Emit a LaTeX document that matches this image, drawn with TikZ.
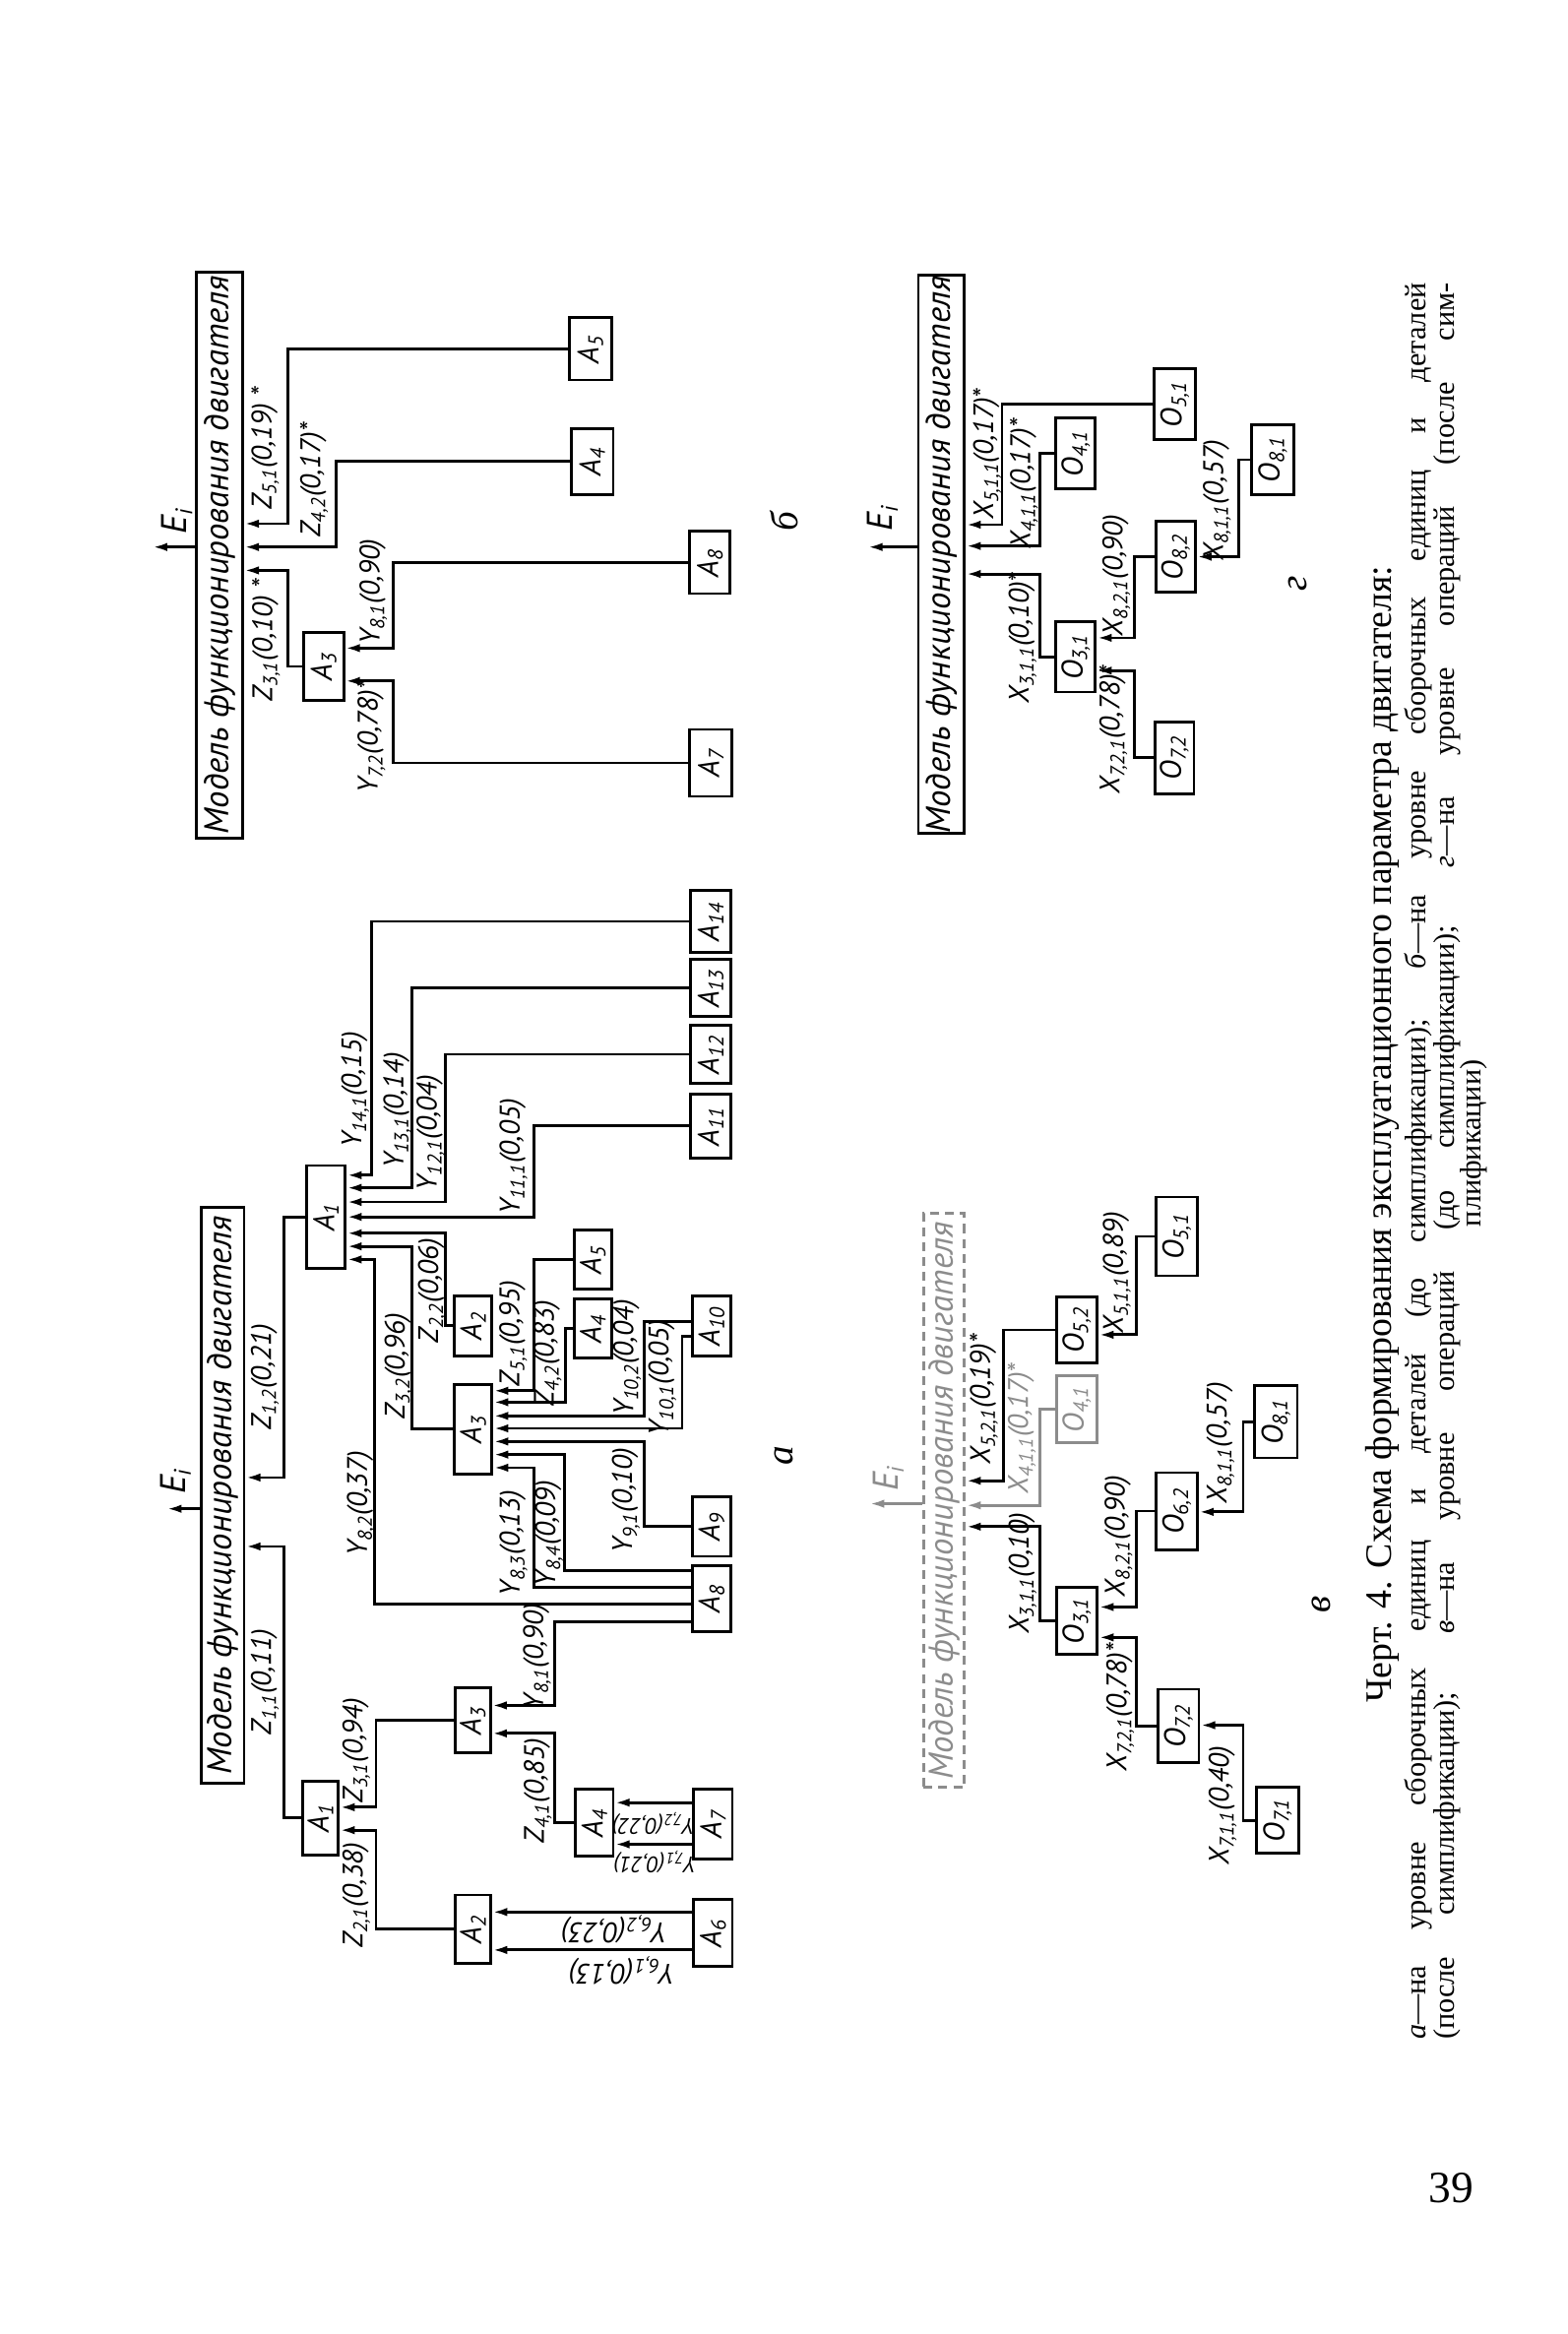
\documentclass[tikz,border=0pt]{standalone}
\usepackage{fontspec}
\setmainfont{Liberation Serif}
\newfontfamily\dfont{PT Sans}
\usepackage{graphicx}
\usetikzlibrary{arrows.meta}
\tikzset{
  box/.style={draw, line width=0.95pt, inner sep=0pt, font=\dfont\itshape\fontsize{10}{10}\selectfont},
  lab/.style={font=\dfont\itshape\fontsize{9.5}{10}\selectfont, inner sep=0pt, rotate=90},
  labr/.style={font=\dfont\itshape\fontsize{9.5}{10}\selectfont, inner sep=0pt, rotate=180},
  labs/.style={font=\dfont\itshape\fontsize{7.5}{8}\selectfont, inner sep=0pt, rotate=180},
  elab/.style={font=\dfont\itshape\fontsize{12}{12}\selectfont, inner sep=0pt, rotate=90},
  con/.style={line width=0.95pt, -{Latex[length=5pt,width=2.8pt]}},
  faded/.style={draw=black!45, text=black!45},
  modeltext/.style={font=\dfont\itshape\fontsize{11.5}{12}\selectfont},
  letter/.style={font=\itshape\fontsize{13}{13}\selectfont, rotate=90, inner sep=0pt},
  capt/.style={rotate=90, inner sep=0pt},
}
\newcommand\mkbox[7][]{\node[box, minimum width={(#5-#3)*0.5pt}, minimum height={(#6-#4)*0.5pt}, #1] (#2) at ({(#3+#5)/2},{(#4+#6)/2}) {\rotatebox{90}{#7}};}
\newcommand\sbs[1]{\textsubscript{#1}}
\begin{document}
\begin{tikzpicture}[x=0.5pt,y=-0.5pt]
\useasboundingbox (0,0) rectangle (1053,1568);
\fill[white] (0,0) rectangle (1053,1568);

% ================= diagram a =================
\mkbox[modeltext]{mA}{135}{811}{164}{1198}{Модель функционирования двигателя}
\mkbox{A1t}{206}{783}{232}{852}{A\sbs{1}}
\mkbox{A14}{464}{598}{491}{640}{A\sbs{14}}
\mkbox{A13}{464}{644.5}{491}{683}{A\sbs{13}}
\mkbox{A12}{464}{688.5}{491}{728}{A\sbs{12}}
\mkbox{A11}{464}{735}{491}{778}{A\sbs{11}}
\mkbox{A5a}{385.6}{826.3}{410.9}{866}{A\sbs{5}}
\mkbox{A2u}{305.2}{870.4}{330.5}{911.1}{A\sbs{2}}
\mkbox{A4u}{385.6}{872.6}{410.9}{912.2}{A\sbs{4}}
\mkbox{A10}{465}{870.4}{491}{911.1}{A\sbs{10}}
\mkbox{A3u}{305.2}{929.9}{330.5}{990.4}{A\sbs{3}}
\mkbox{A9}{465}{1005.8}{491}{1045.5}{A\sbs{9}}
\mkbox{A8}{465}{1052}{491}{1096}{A\sbs{8}}
\mkbox{A3l}{305.8}{1133.6}{329.5}{1177.7}{A\sbs{3}}
\mkbox{A1l}{203.3}{1196.5}{227.3}{1246}{A\sbs{1}}
\mkbox{A4l}{386.7}{1202}{412}{1247}{A\sbs{4}}
\mkbox{A7}{466}{1202}{492}{1249}{A\sbs{7}}
\mkbox{A2l}{305.8}{1273}{329.8}{1319}{A\sbs{2}}
\mkbox{A6}{466}{1276}{492}{1321}{A\sbs{6}}

\coordinate (eA) at (112,1013.6);
\draw[con] (mA.west |- 0,1013.6) -- (eA);
\node[elab] (lEA) at (118,995) {E\sbs{i}};

\draw[con] (A1t.west) -| (190.7,992.6) -- (mA.east |- 0,992.6);
\draw[con] (A1l.west) -| (190.7,1038.9) -- (mA.east |- 0,1038.9);
\draw[con] (A14.west) -| (249.7,789.5) -- (A1t.east |- 0,789.5);
\draw[con] (A13.west) -| (276.7,798) -- (A1t.east |- 0,798);
\draw[con] (A12.west) -| (299.2,807.5) -- (A1t.east |- 0,807.5);
\draw[con] (A11.west) -| (358.5,817.5) -- (A1t.east |- 0,817.5);
\draw[con] (A2u.west) -| (299.2,828.5) -- (A1t.east |- 0,828.5);
\draw[con] (A3u.west) -| (276.7,837.3) -- (A1t.east |- 0,837.3);
\draw[con] (A8.west |- 0,1077.4) -| (251.5,846.1) -- (A1t.east |- 0,846.1);
\draw[con] (A5a.west) -| (358.5,934.3) -- (A3u.east |- 0,934.3);
\draw[con] (A4u.west) -| (380.1,942) -- (A3u.east |- 0,942);
\draw[con] (A10.west |- 0,888) -| (433,951.2) -- (A3u.east |- 0,951.2);
\draw[con] (A10.west |- 0,897.9) -| (458.3,959.6) -- (A3u.east |- 0,959.6);
\draw[con] (A9.west) -| (433,968.4) -- (A3u.east |- 0,968.4);
\draw[con] (A8.west |- 0,1055.4) -| (379,977.2) -- (A3u.east |- 0,977.2);
\draw[con] (A8.west |- 0,1066.4) -| (359,986) -- (A3u.east |- 0,986);
\draw[con] (A8.west |- 0,1089.6) -| (372.8,1145.7) -- (A3l.east |- 0,1145.7);
\draw[con] (A4l.west) -| (372.8,1164.5) -- (A3l.east |- 0,1164.5);
\draw[con] (A3l.west) -| (252.6,1214.1) -- (A1l.east |- 0,1214.1);
\draw[con] (A2l.west) -| (252.6,1229.5) -- (A1l.east |- 0,1229.5);
\draw[con] (A7.west |- 0,1211) -- (A4l.east |- 0,1211);
\draw[con] (A7.west |- 0,1239) -- (A4l.east |- 0,1239);
\draw[con] (A6.west |- 0,1284.5) -- (A2l.east |- 0,1284.5);
\draw[con] (A6.west |- 0,1310) -- (A2l.east |- 0,1310);

\node[lab] (l1) at (178,925) {Z\sbs{1,2}(0,21)};
\node[lab] (l2) at (178,1130) {Z\sbs{1,1}(0,11)};
\node[lab] (l3) at (238.7,732) {Y\sbs{14,1}(0,15)};
\node[lab] (l4) at (267,746) {Y\sbs{13,1}(0,14)};
\node[lab] (l5) at (289.3,761) {Y\sbs{12,1}(0,04)};
\node[lab] (l6) at (345,777) {Y\sbs{11,1}(0,05)};
\node[lab] (l7) at (290.3,867) {Z\sbs{2,2}(0,06)};
\node[lab] (l8) at (267.7,917.7) {Z\sbs{3,2}(0,96)};
\node[lab] (l9) at (242.5,1010) {Y\sbs{8,2}(0,37)};
\node[lab] (l10) at (344.8,895.8) {Z\sbs{5,1}(0,95)};
\node[lab] (l11) at (368,909) {Z\sbs{4,2}(0,83)};
\node[lab] (l12) at (421.4,912) {Y\sbs{10,2}(0,04)};
\node[lab] (l13) at (445,925.5) {Y\sbs{10,1}(0,05)};
\node[lab] (l14) at (420.5,1008) {Y\sbs{9,1}(0,10)};
\node[lab] (l15) at (345,1036.6) {Y\sbs{8,3}(0,13)};
\node[lab] (l16) at (369,1030) {Y\sbs{8,4}(0,09)};
\node[lab] (l17) at (360.8,1112.7) {Y\sbs{8,1}(0,90)};
\node[lab] (l18) at (361.4,1203) {Z\sbs{4,1}(0,85)};
\node[lab] (l19) at (239.4,1176) {Z\sbs{3,1}(0,94)};
\node[lab] (l20) at (239.4,1273) {Z\sbs{2,1}(0,38)};
\node[labs] (l21) at (439,1225) {Y\sbs{7,2}(0,22)};
\node[labs] (l22) at (440,1251) {Y\sbs{7,1}(0,21)};
\node[labr] (l23) at (412.6,1296) {Y\sbs{6,2}(0,23)};
\node[labr] (l24) at (417.7,1324) {Y\sbs{6,1}(0,13)};
\node[letter] (la) at (527,978) {а};

% ================= diagram b =================
\mkbox[modeltext]{mB}{132}{183}{163}{563}{Модель функционирования двигателя}
\mkbox{A5b}{382.5}{213.5}{410.8}{255.3}{A\sbs{5}}
\mkbox{A4b}{383.8}{287.9}{412}{332.3}{A\sbs{4}}
\mkbox{A8b}{463.5}{357}{490.4}{398.8}{A\sbs{8}}
\mkbox{A3b}{203.9}{424.9}{230.9}{470.6}{A\sbs{3}}
\mkbox{A7b}{463.5}{490}{491.5}{535}{A\sbs{7}}
\coordinate (eB) at (102.4,367.5);
\draw[con] (mB.west |- 0,367.5) -- (eB);
\node[elab] (lEB) at (119,350) {E\sbs{i}};
\draw[con] (A5b.west) -| (193.6,351.8) -- (mB.east |- 0,351.8);
\draw[con] (A4b.west) -| (225.7,367.5) -- (mB.east |- 0,367.5);
\draw[con] (A3b.west) -| (193.6,383.2) -- (mB.east |- 0,383.2);
\draw[con] (A8b.west) -| (264.3,435.4) -- (A3b.east |- 0,435.4);
\draw[con] (A7b.west) -| (264.3,457.5) -- (A3b.east |- 0,457.5);
\node[lab] (lb1) at (178.2,301) {Z\sbs{5,1}(0,19) *};
\node[lab] (lb2) at (211,322.5) {Z\sbs{4,2}(0,17)*};
\node[lab] (lb3) at (178.8,430) {Z\sbs{3,1}(0,10) *};
\node[lab] (lb4) at (250.8,397.5) {Y\sbs{8,1}(0,90)};
\node[lab] (lb5) at (249.5,495) {Y\sbs{7,2}(0,78)*};
\node[letter] (lbb) at (527,350) {б};

% ================= diagram g (top right) =================
\mkbox[modeltext]{mG}{617}{185}{648}{560}{Модель функционирования двигателя}
\mkbox{O51g}{775.6}{247.9}{803.1}{295.2}{O\sbs{5,1}}
\mkbox{O41g}{709.5}{280.9}{736}{328.3}{O\sbs{4,1}}
\mkbox{O81g}{840.8}{285.3}{869.4}{332.3}{O\sbs{8,1}}
\mkbox{O82g}{776.7}{350.3}{803.1}{397.7}{O\sbs{8,2}}
\mkbox{O31g}{709.5}{417.5}{736}{464.9}{O\sbs{3,1}}
\mkbox{O72g}{775.8}{485}{802.2}{533.2}{O\sbs{7,2}}
\coordinate (eG) at (583,367.5);
\draw[con] (mG.west |- 0,367.5) -- (eG);
\node[elab] (lEG) at (593,348) {E\sbs{i}};
\draw[con] (O51g.west) -| (673.2,352.5) -- (mG.east |- 0,352.5);
\draw[con] (O41g.west) -| (698.5,366.8) -- (mG.east |- 0,366.8);
\draw[con] (O31g.west) -| (698.5,385.6) -- (mG.east |- 0,385.6);
\draw[con] (O82g.west) -| (762.4,428.5) -- (O31g.east |- 0,428.5);
\draw[con] (O72g.west) -| (762.4,450.5) -- (O31g.east |- 0,450.5);
\draw[con] (O81g.west) -| (832,374) -- (O82g.east |- 0,374);
\node[lab] (lg1) at (663.2,305) {X\sbs{5,1,1}(0,17)*};
\node[lab] (lg2) at (688,325) {X\sbs{4,1,1}(0,17)*};
\node[lab] (lg3) at (687,428.5) {X\sbs{3,1,1}(0,10)*};
\node[lab] (lg4) at (750,386.5) {X\sbs{8,2,1}(0,90)};
\node[lab] (lg5) at (748,490) {X\sbs{7,2,1}(0,78)*};
\node[lab] (lg6) at (817.7,336) {X\sbs{8,1,1}(0,57)};
\node[letter] (lgg) at (872,392) {г};

% ================= diagram v (bottom right) =================
\mkbox[modeltext,faded,densely dashed]{mV}{620.5}{815.2}{648}{1200.8}{Модель функционирования двигателя}
\mkbox{O52v}{709.7}{871.4}{737.2}{915.5}{O\sbs{5,2}}
\mkbox[faded]{O41v}{709.7}{924.3}{737.2}{969.4}{O\sbs{4,1}}
\mkbox{O51v}{776.9}{804.2}{804.4}{857.1}{O\sbs{5,1}}
\mkbox{O62v}{776.9}{989.3}{804.4}{1041}{O\sbs{6,2}}
\mkbox{O81v}{843}{930.9}{871.6}{979.4}{O\sbs{8,1}}
\mkbox{O31v}{709.7}{1066.4}{737.2}{1111.6}{O\sbs{3,1}}
\mkbox{O72v}{778}{1134.8}{805.5}{1184.3}{O\sbs{7,2}}
\mkbox{O71v}{844}{1200.8}{872.7}{1244.9}{O\sbs{7,1}}
\coordinate (eV) at (584.1,1010.2);
\draw[con,black!45] (mV.west |- 0,1010.2) -- (eV);
\node[elab,black!45] (lEV) at (597,993) {E\sbs{i}};
\draw[con] (O52v.west) -| (674.4,994.8) -- (mV.east |- 0,994.8);
\draw[con,black!45] (O41v.west) -| (698.7,1011.3) -- (mV.east |- 0,1011.3);
\draw[con] (O31v.west) -| (698.7,1025.6) -- (mV.east |- 0,1025.6);
\draw[con] (O51v.west) -| (763.6,896.7) -- (O52v.east |- 0,896.7);
\draw[con] (O62v.west) -| (763.6,1079.6) -- (O31v.east |- 0,1079.6);
\draw[con] (O81v.west) -| (835.2,1015.7) -- (O62v.east |- 0,1015.7);
\draw[con] (O72v.west) -| (763.6,1100) -- (O31v.east |- 0,1100);
\draw[con] (O71v.west) -| (835.2,1159) -- (O72v.east |- 0,1159);
\node[lab] (lv1) at (661,940) {X\sbs{5,2,1}(0,19)*};
\node[lab,black!45] (lv2) at (686.5,959.5) {X\sbs{4,1,1}(0,17)*};
\node[lab] (lv3) at (687,1057) {X\sbs{3,1,1}(0,10)};
\node[lab] (lv4) at (750.4,855) {X\sbs{5,1,1}(0,89)};
\node[lab] (lv5) at (751.5,1032) {X\sbs{8,2,1}(0,90)};
\node[lab] (lv6) at (820,969.5) {X\sbs{8,1,1}(0,57)};
\node[lab] (lv7) at (752.6,1147) {X\sbs{7,2,1}(0,78)*};
\node[lab] (lv8) at (821.5,1213) {X\sbs{7,1,1}(0,40)};
\node[letter] (lvv) at (888,1078) {в};

% ================= caption =================
\node[capt, font=\fontsize{12.5}{14}\selectfont] (title) at (929,762) {Черт. 4. Схема формирования эксплуатационного параметра двигателя:};
\node[capt, font=\fontsize{10}{12}\selectfont] (cap1) at (953,780) {\makebox[590pt][s]{\textit{а}—на уровне сборочных единиц и деталей (до симплификации); \textit{б}—на уровне сборочных единиц и деталей}};
\node[capt, font=\fontsize{10}{12}\selectfont] (cap2) at (972,780) {\makebox[590pt][s]{(после симплификации); \textit{в}—на уровне операций (до симплификации); \textit{г}—на уровне операций (после сим-}};
\node[capt, font=\fontsize{10}{12}\selectfont] (cap3) at (990,768) {плификации)};
\node[font=\fontsize{15}{15}\selectfont] (pnum) at (975,1470) {39};
\end{tikzpicture}
\end{document}
